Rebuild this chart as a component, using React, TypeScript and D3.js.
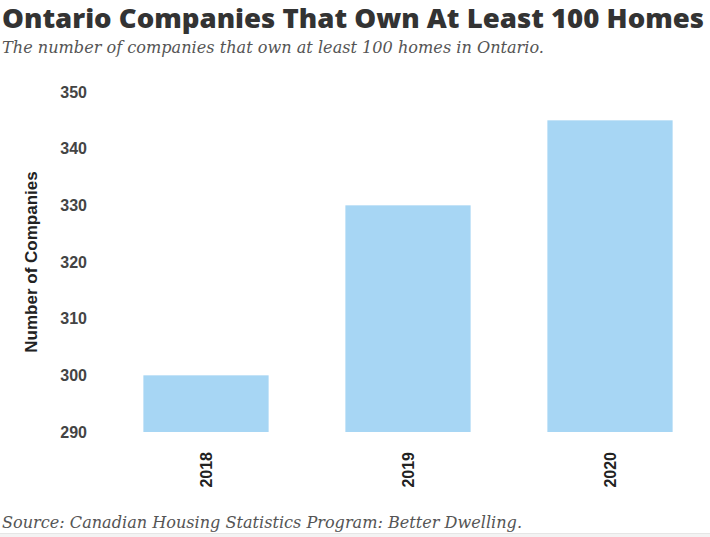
import React from "react";
import * as d3 from "d3";

const categories = ["2018", "2019", "2020"];
const values = [300, 330, 345];
const yTicks = [290, 300, 310, 320, 330, 340, 350];
const title = "Ontario Companies That Own At Least 100 Homes";
const subtitle = "The number of companies that own at least 100 homes in Ontario.";
const yTitle = "Number of Companies";
const source = "Source: Canadian Housing Statistics Program: Better Dwelling.";

const W = 710;
const H = 537;

export default function App() {
  const y = d3.scaleLinear().domain([290, 350]).range([432, 92]);
  const x = d3
    .scaleBand<string>()
    .domain(categories)
    .range([105, 711])
    .paddingInner(0.38)
    .paddingOuter(0.19);

  return (
    <svg
      width={W}
      height={H}
      style={{ position: "absolute", left: 0, top: 0, background: "#fff" }}
    >
      <text
        x={2}
        y={28}
        fontFamily="'Open Sans', 'DejaVu Sans', sans-serif"
        fontWeight={800}
        fontSize={26}
        fill="#333"
        textLength={702}
        lengthAdjust="spacingAndGlyphs"
      >
        {title}
      </text>
      <text
        x={2}
        y={53}
        fontFamily="'DejaVu Serif', serif"
        fontStyle="italic"
        fontSize={16}
        fill="#555"
        textLength={542}
        lengthAdjust="spacingAndGlyphs"
      >
        {subtitle}
      </text>

      {yTicks.map((t) => (
        <text
          key={t}
          x={87}
          y={y(t)}
          dy="0.35em"
          textAnchor="end"
          fontFamily="'Liberation Sans', Arial, sans-serif"
          fontWeight="bold"
          fontSize={16}
          fill="#444"
        >
          {t}
        </text>
      ))}

      <text
        transform={`translate(37,${(y(290) + y(350)) / 2}) rotate(-90)`}
        textAnchor="middle"
        fontFamily="'Liberation Sans', Arial, sans-serif"
        fontWeight="bold"
        fontSize={17}
        fill="#222"
      >
        {yTitle}
      </text>

      {categories.map((c, i) => (
        <rect
          key={c}
          x={x(c)}
          y={y(values[i])}
          width={x.bandwidth()}
          height={y(290) - y(values[i])}
          fill="#a7d6f4"
        />
      ))}

      {categories.map((c) => (
        <text
          key={c}
          transform={`translate(${(x(c) as number) + x.bandwidth() / 2},452) rotate(-90)`}
          textAnchor="end"
          dy="0.35em"
          fontFamily="'Liberation Sans', Arial, sans-serif"
          fontWeight="bold"
          fontSize={16}
          fill="#222"
        >
          {c}
        </text>
      ))}

      <text
        x={2}
        y={528}
        fontFamily="'DejaVu Serif', serif"
        fontStyle="italic"
        fontSize={16}
        fill="#555"
        textLength={520}
        lengthAdjust="spacingAndGlyphs"
      >
        {source}
      </text>
      <line x1={0} x2={W} y1={533.5} y2={533.5} stroke="#e6e6e6" strokeWidth={1} />
      <rect x={0} y={534} width={W} height={3} fill="#f3f3f3" />
    </svg>
  );
}
